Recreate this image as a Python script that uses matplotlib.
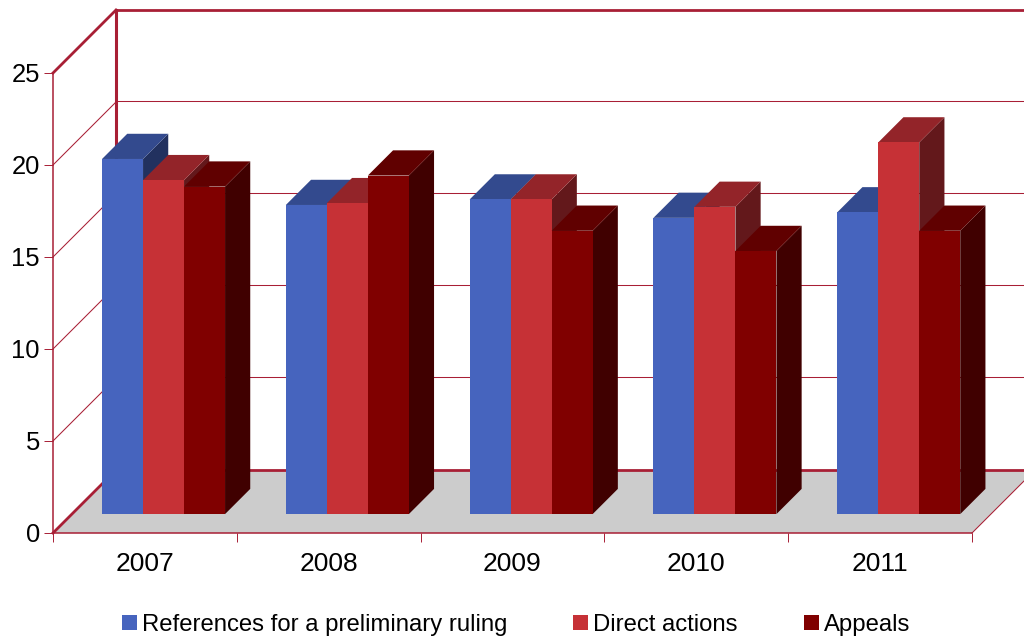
import matplotlib
matplotlib.use('Agg')
import matplotlib.pyplot as plt
from matplotlib.patches import Patch

years = ['2007', '2008', '2009', '2010', '2011']
series_names = ['References for a preliminary ruling', 'Direct actions', 'Appeals']
references = [19.3, 16.8, 17.1, 16.1, 16.4]
direct_actions = [18.15, 16.9, 17.1, 16.7, 20.2]
appeals = [17.8, 18.4, 15.4, 14.3, 15.4]

front_colors = ['#4664BE', '#C63136', '#800000']
top_colors = ['#334A8E', '#932429', '#600000']
side_colors = ['#22315F', '#63181B', '#400000']
frame = '#A81F35'

W, H = 1024, 637
LEFT, RIGHT, TOP, BOTTOM = 53, 972, 73, 533

plt.rcParams['font.family'] = ['Liberation Sans', 'DejaVu Sans']
fig = plt.figure(figsize=(W / 100, H / 100), dpi=100)
ax = fig.add_axes([LEFT / W, 1 - BOTTOM / H, (RIGHT - LEFT) / W, (BOTTOM - TOP) / H])
ax.set_xlim(0, 5)
ax.set_ylim(0, 25)

# oblique depth: d=1 is the back wall, 63 px right and up
DX = 63 / ((RIGHT - LEFT) / 5)
DY = 63 / ((BOTTOM - TOP) / 25)


def project(x, v, d):
    return x + d * DX, v + d * DY


def poly(points, color, z):
    xs, ys = zip(*[project(*p) for p in points])
    ax.fill(xs, ys, color=color, lw=0, zorder=z, clip_on=False)


def line(points, lw, z=1.5):
    xs, ys = zip(*[project(*p) for p in points])
    ax.plot(xs, ys, color=frame, lw=lw, zorder=z, clip_on=False, solid_capstyle='projecting')


# floor and walls
poly([(0, 0, 0), (5, 0, 0), (5, 0, 1), (0, 0, 1)], '#CCCCCC', 1)
for v in range(5, 25, 5):
    line([(0, v, 0), (0, v, 1)], 0.75)
    line([(0, v + 0.03, 1), (5, v + 0.03, 1)], 0.75)  # nudge so the line snaps to the right pixel row
line([(5, 0, 0), (5, 0, 1)], 0.75)
line([(0, 0, 0), (0, 0, 1)], 2.0)
line([(0, 0, 1), (5, 0, 1)], 2.0)
line([(0, 25, 0), (0, 25, 1)], 2.0)
line([(0, 25, 1), (5, 25, 1)], 2.0)
line([(0, 0, 1), (0, 25, 1)], 2.2)

# bars
bar_w = 41 / ((RIGHT - LEFT) / 5)
start = 0.164
d0, d1 = 0.30, 0.70
z = 3
for i in range(len(years)):
    for j, vals in enumerate([references, direct_actions, appeals]):
        x0 = i + start + j * bar_w
        x1 = x0 + bar_w
        v = vals[i]
        poly([(x1, 0, d0), (x1, 0, d1), (x1, v, d1), (x1, v, d0)], side_colors[j], z)
        poly([(x0, v, d0), (x1, v, d0), (x1, v, d1), (x0, v, d1)], top_colors[j], z)
        poly([(x0, 0, d0), (x1, 0, d0), (x1, v, d0), (x0, v, d0)], front_colors[j], z + 0.5)
        z += 1

# axes
for s in ['top', 'right']:
    ax.spines[s].set_visible(False)
ax.patch.set_alpha(0)
for s in ['left', 'bottom']:
    ax.spines[s].set_color(frame)
    ax.spines[s].set_linewidth(1.1)
    ax.spines[s].set_zorder(2)
ax.set_yticks(range(0, 30, 5))
ax.set_xticks(range(6))
ax.set_xticklabels([])
ax.set_xticks([i + 0.5 for i in range(5)], labels=years, minor=True)
ax.tick_params(axis='y', length=6.5, width=0.7, color=frame, labelsize=18.4, pad=3)
ax.tick_params(axis='x', which='major', length=6.5, width=0.7, color=frame)
ax.tick_params(axis='x', which='minor', length=0, labelsize=19, pad=13.5)

handles = [Patch(color=c, lw=0) for c in front_colors]
ax.legend(handles, series_names, ncol=3, frameon=False, fontsize=17.2,
          loc='lower left', bbox_to_anchor=(122 / W, 1 - 636 / H), bbox_transform=fig.transFigure,
          borderpad=0, borderaxespad=0, handlelength=0.63, handleheight=0.63,
          handletextpad=0.21, columnspacing=2.76, labelspacing=0)

fig.savefig('out.png', dpi=100)
